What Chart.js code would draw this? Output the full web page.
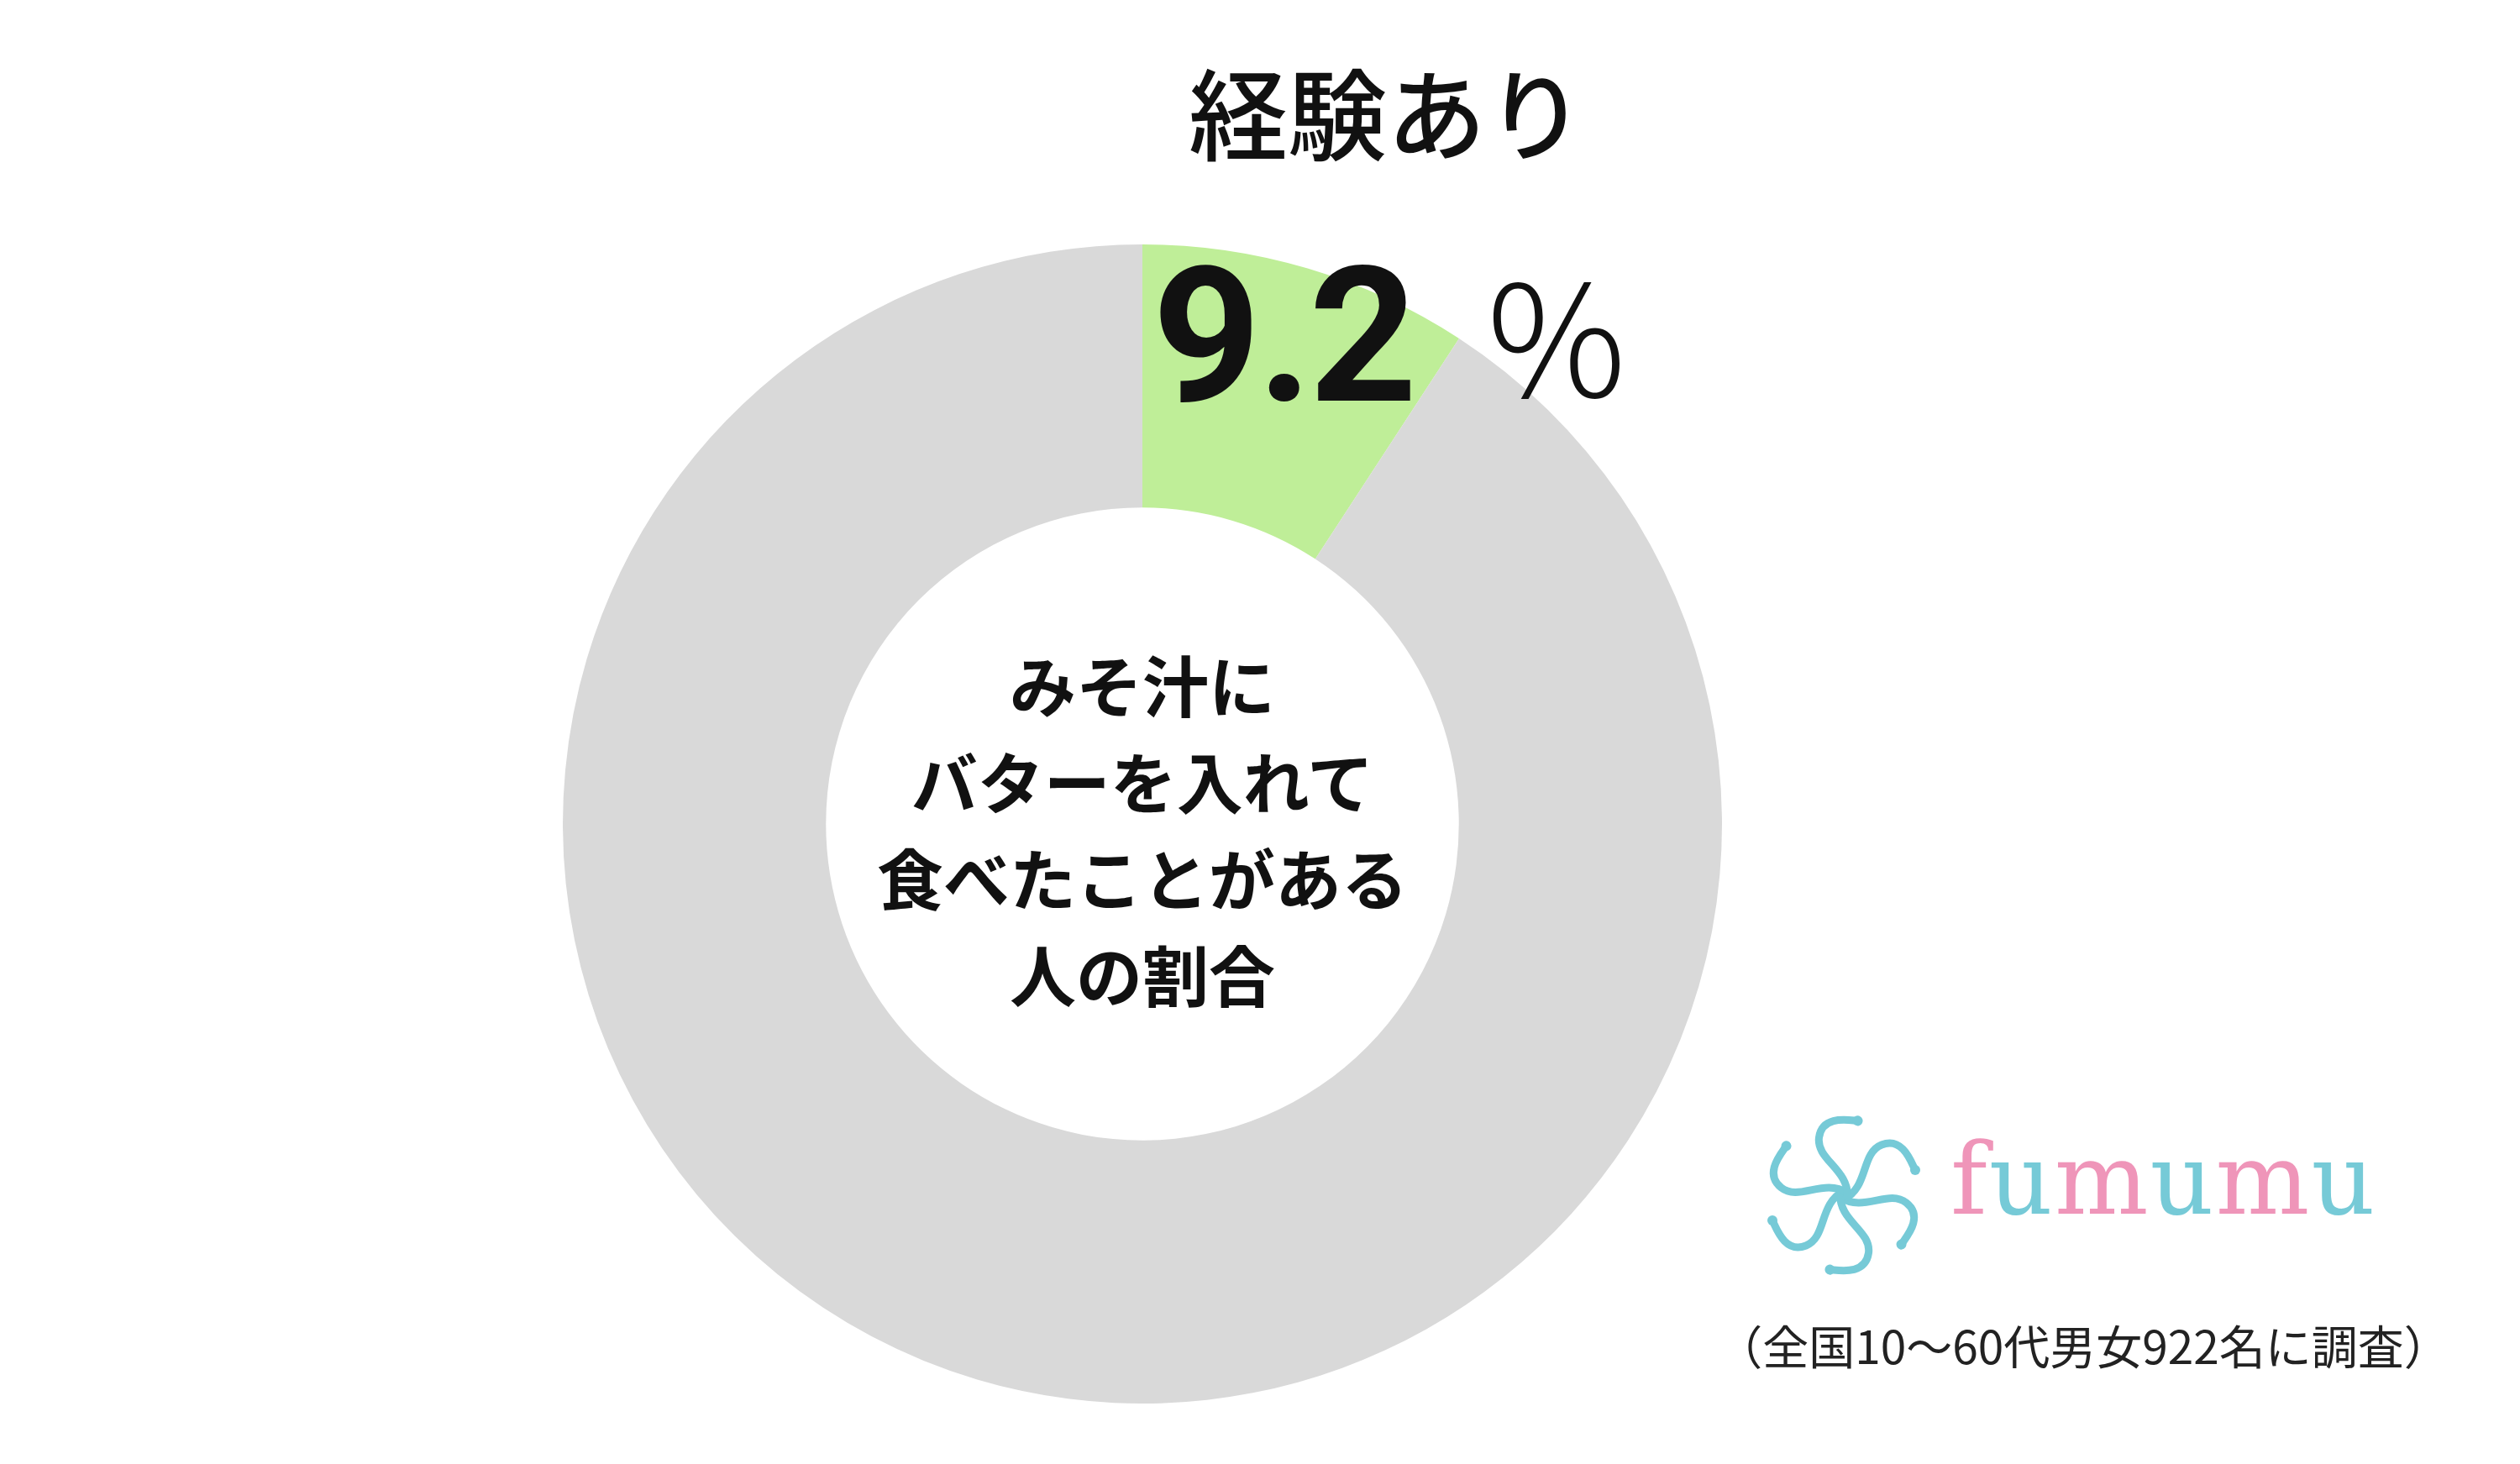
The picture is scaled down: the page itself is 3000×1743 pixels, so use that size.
<!DOCTYPE html>
<html><head><meta charset="utf-8">
<script src="https://cdn.jsdelivr.net/npm/chart.js@4"></script>
<style>
body{margin:0;width:3000px;height:1743px;background:#fff;position:relative;overflow:hidden;font-family:"Noto Sans CJK JP",sans-serif}
.t{position:absolute;white-space:nowrap;color:#111}
#wrap{position:absolute;left:670px;top:291px;width:1380px;height:1380px}
</style></head><body>
<div id="wrap"><canvas id="c"></canvas></div>
<div class="t" style="left:1651px;top:130px;transform:translate(-50%,-50%);font-size:118px;font-weight:500">経験あり</div>
<div class="t" style="left:1372px;top:288px;font-family:Roboto,'Liberation Sans';font-weight:700;font-size:225px;line-height:1;letter-spacing:-4px">9.2</div>
<div class="t" style="left:1770px;top:300px;font-family:'Noto Sans CJK JP';font-weight:300;font-size:185px;line-height:1;">%</div>
<div class="t" id="ct" style="left:1360px;top:986px;transform:translate(-50%,-50%);font-size:79px;font-weight:700;line-height:115px;text-align:center"></div>
<canvas id="logo" width="200" height="190" style="position:absolute;left:2095px;top:1328px"></canvas>
<div class="t" style="left:2322px;top:1345px;font-family:'DejaVu Serif','Liberation Serif';font-size:118px;letter-spacing:2px;line-height:1"><span style="color:#ef95b9">f</span><span style="color:#76cad7">u</span><span style="color:#ef95b9">m</span><span style="color:#76cad7">u</span><span style="color:#ef95b9">m</span><span style="color:#76cad7">u</span></div>
<div class="t" style="left:2480px;top:1600px;transform:translate(-50%,-50%);font-size:55px;color:#222">（全国10～60代男女922名に調査）</div>
<script>
const categories=["経験あり","経験なし"];
const values=[9.2,90.8];
const colors=["#bfee98","#d9d9d9"];
const centerLines=["みそ汁に","バターを入れて","食べたことがある","人の割合"];
document.getElementById('ct').innerHTML=centerLines.join('<br>');
new Chart(document.getElementById('c'),{type:'doughnut',
data:{labels:categories,datasets:[{data:values,backgroundColor:colors,borderWidth:0}]},
options:{responsive:true,maintainAspectRatio:true,animation:false,cutout:'54.6%',
plugins:{legend:{display:false},tooltip:{enabled:false}},layout:{padding:0}}});
const g=document.getElementById('logo').getContext('2d');
g.strokeStyle='#76cad7';g.lineWidth=9;g.lineCap='round';
for(let i=0;i<6;i++){g.save();g.translate(100,95);g.rotate(i*Math.PI/3);
g.beginPath();g.moveTo(0,5);g.bezierCurveTo(30,-10,20,-50,45,-60);g.bezierCurveTo(70,-70,80,-40,85,-30);g.stroke();
g.beginPath();g.arc(85,-30,6,0,7);g.fillStyle='#76cad7';g.fill();g.restore();}
</script>
</body></html>
